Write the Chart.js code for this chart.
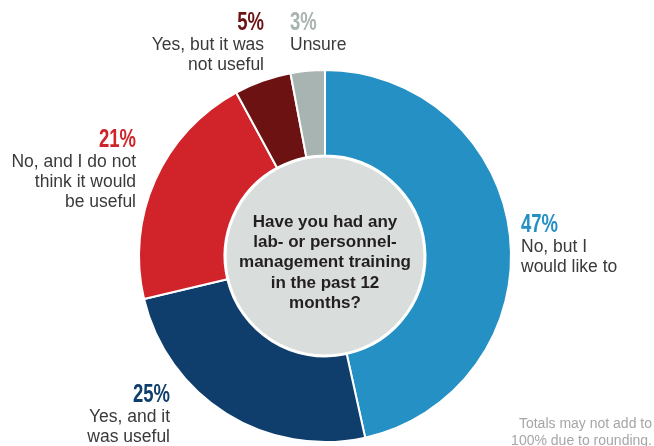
<!DOCTYPE html>
<html lang="en">
<head>
    <meta charset="UTF-8">
    <title>Lab management training</title>
    <script src="https://cdn.jsdelivr.net/npm/chart.js"></script>
    <style>
        body {
            margin: 0;
            padding: 0;
            background-color: #fff;
        }

        #chart-container {
            width: 654px;
            height: 446px;
        }
    </style>
</head>
<body>
    <div id="chart-container">
        <canvas id="trainingChart"></canvas>
    </div>

    <script>
        // data, clockwise from 12 o'clock
        const categories = [
            ['No, but I', 'would like to'],
            ['Yes, and it', 'was useful'],
            ['No, and I do not', 'think it would', 'be useful'],
            ['Yes, but it was', 'not useful'],
            ['Unsure']
        ];
        const values = [47, 25, 21, 5, 3];
        const sliceColors = ['#2490c4', '#0f3e6c', '#d0232a', '#6d1212', '#a8b4b2'];
        const labelColors = ['#2490c4', '#0f3e6c', '#d0232a', '#6d1212', '#a8b4b2'];
        const centerQuestion = ['Have you had any', 'lab- or personnel-', 'management training', 'in the past 12', 'months?'];
        const footnote = ['Totals may not add to', '100% due to rounding.'];

        // where each label sits, relative to the doughnut centre
        const labelPlaces = [
            { dx: 196, dy: -24, align: 'left' },
            { dx: -155, dy: 146, align: 'right' },
            { dx: -189, dy: -109, align: 'right' },
            { dx: -61, dy: -226, align: 'right' },
            { dx: -35, dy: -226, align: 'left' }
        ];

        const pctFont = 'bold 25px "Liberation Sans", Arial, sans-serif';
        const pctSquash = 0.74; // fake a condensed face
        const textFont = '17.5px "Liberation Sans", Arial, sans-serif';

        const overlay = {
            id: 'overlay',
            afterDatasetsDraw(chart) {
                const ctx = chart.ctx;
                const arc = chart.getDatasetMeta(0).data[0];
                const cx = arc.x, cy = arc.y;

                // grey disc in the hole
                ctx.save();
                ctx.beginPath();
                ctx.arc(cx, cy, arc.innerRadius - 1, 0, Math.PI * 2);
                ctx.fillStyle = '#d9dddc';
                ctx.fill();
                ctx.lineWidth = 2;
                ctx.strokeStyle = '#fff';
                ctx.stroke();

                ctx.fillStyle = '#231f20';
                ctx.font = 'bold 17px "Liberation Sans", Arial, sans-serif';
                ctx.textAlign = 'center';
                ctx.textBaseline = 'alphabetic';
                centerQuestion.forEach((line, i) => {
                    ctx.fillText(line, cx, cy - 29 + i * 20.2);
                });

                // outside labels
                values.forEach((v, i) => {
                    const p = labelPlaces[i];
                    const x = cx + p.dx;
                    const y = cy + p.dy;
                    ctx.textAlign = p.align;

                    ctx.save();
                    ctx.translate(x, y);
                    ctx.scale(pctSquash, 1);
                    ctx.font = pctFont;
                    ctx.fillStyle = labelColors[i];
                    ctx.fillText(v + '%', 0, 0);
                    ctx.restore();

                    ctx.font = textFont;
                    ctx.fillStyle = '#3a3a3a';
                    categories[i].forEach((line, j) => {
                        ctx.fillText(line, x, y + 20 + j * 20);
                    });
                });

                ctx.textAlign = 'right';
                ctx.font = '14px "Liberation Sans", Arial, sans-serif';
                ctx.fillStyle = '#a6a6a6';
                footnote.forEach((line, i) => {
                    ctx.fillText(line, chart.width - 2, chart.height - 18 + i * 17);
                });
                ctx.restore();
            }
        };

        new Chart(document.getElementById('trainingChart'), {
            type: 'doughnut',
            data: {
                labels: categories.map(c => c.join(' ')),
                datasets: [{
                    data: values,
                    backgroundColor: sliceColors,
                    borderColor: '#fff',
                    borderWidth: 2
                }]
            },
            options: {
                responsive: true,
                maintainAspectRatio: false,
                animation: false,
                cutout: '54%',
                layout: {
                    padding: { top: 69, bottom: 3, left: 0, right: 4 }
                },
                plugins: {
                    legend: { display: false },
                    tooltip: { enabled: false }
                }
            },
            plugins: [overlay]
        });
    </script>
</body>
</html>
